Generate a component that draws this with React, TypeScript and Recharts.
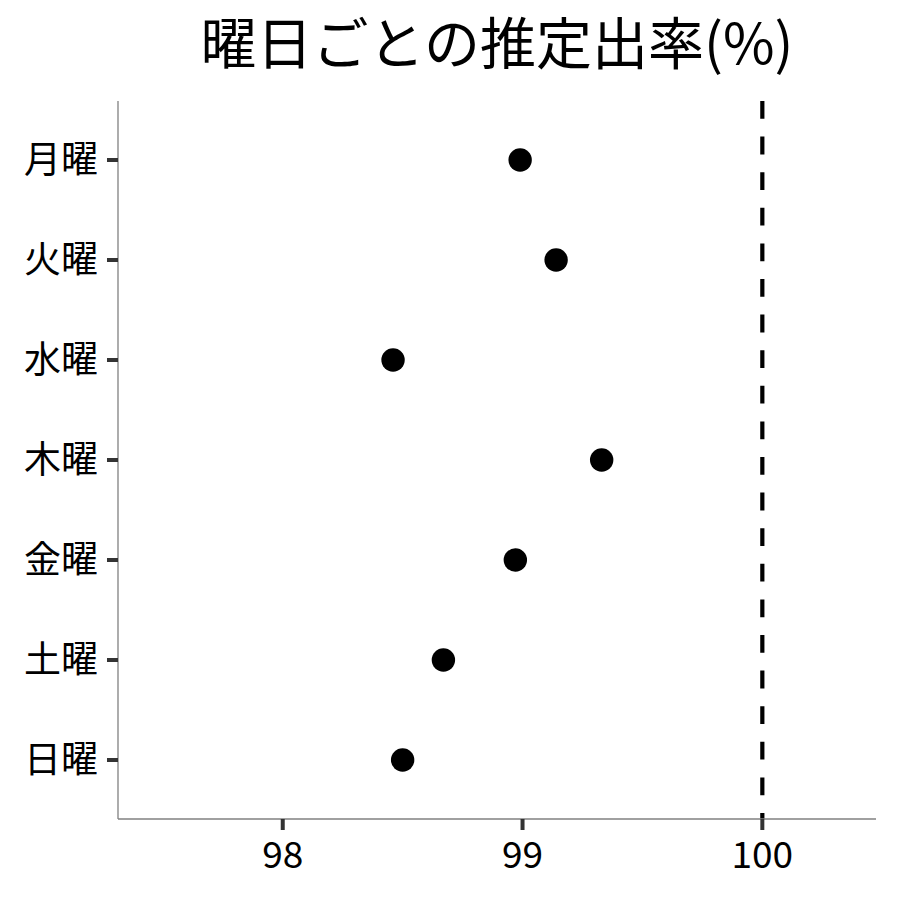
import React from 'react';
import { ScatterChart, Scatter, XAxis, YAxis, ReferenceLine } from 'recharts';

const days = ['月曜', '火曜', '水曜', '木曜', '金曜', '土曜', '日曜'];
const rates = [98.99, 99.14, 98.46, 99.33, 98.97, 98.67, 98.5];
const xTicks = [98, 99, 100];
const yTicks = [0, 1, 2, 3, 4, 5, 6];
const refValue = 100;
const title = '曜日ごとの推定出率(%)';

const data = days.map((d, i) => ({ day: d, y: i, rate: rates[i] }));

const FONT = '"Noto Sans CJK JP", "Noto Sans", sans-serif';

const Dot = (p: any) => <circle cx={p.cx} cy={p.cy} r={11.7} fill="#000" />;

export default function App() {
  return (
    <div style={{ position: 'absolute', left: 0, top: 0, width: 900, height: 900, background: '#fff' }}>
      <svg width={900} height={100} style={{ position: 'absolute', left: 0, top: 0 }}>
        <text x={497} y={64} textAnchor="middle" fontSize={56} fontFamily={FONT} fill="#000">
          {title}
        </text>
      </svg>
      <div style={{ position: 'absolute', left: 0, top: 0 }}>
        <ScatterChart width={900} height={900} margin={{ top: 101, right: 24, bottom: 0, left: 0 }}>
          <XAxis
            type="number"
            dataKey="rate"
            domain={[97.313, 100.474]}
            allowDataOverflow
            ticks={xTicks}
            height={81}
            tickSize={11}
            tickMargin={12}
            axisLine={{ stroke: '#808080', strokeWidth: 1.3 }}
            tickLine={{ stroke: '#333', strokeWidth: 4 }}
            tick={{ fill: '#000', fontSize: 37, fontFamily: FONT }}
          />
          <YAxis
            type="number"
            dataKey="y"
            domain={[-0.59, 6.59]}
            allowDataOverflow
            reversed
            ticks={yTicks}
            interval={0}
            tickFormatter={(v: number) => days[v]}
            width={118}
            tickSize={11}
            tickMargin={9}
            axisLine={{ stroke: '#808080', strokeWidth: 1.3 }}
            tickLine={{ stroke: '#333', strokeWidth: 4 }}
            tick={{ fill: '#000', fontSize: 37, fontFamily: FONT }}
          />
          <ReferenceLine
            x={refValue}
            stroke="#000"
            strokeWidth={4.2}
            strokeDasharray="17.8 17.8"
            strokeDashoffset={11.8}
          />
          <Scatter data={data} shape={Dot} isAnimationActive={false} />
        </ScatterChart>
      </div>
    </div>
  );
}
